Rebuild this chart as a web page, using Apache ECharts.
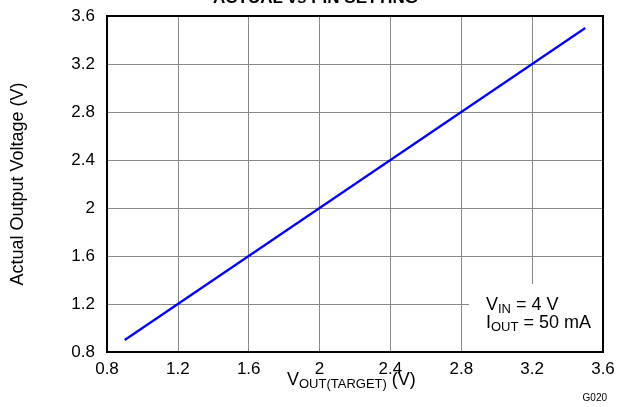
<!DOCTYPE html>
<html><head><meta charset="utf-8">
<script src="https://cdn.jsdelivr.net/npm/echarts@6/dist/echarts.min.js"></script>
<style>html,body{margin:0;padding:0;background:#fff}#c{width:627px;height:407px}</style>
</head><body><div id="c"></div>
<script>
var xTarget = [0.9, 3.5];
var yActual = [0.9, 3.5];
var titleText = 'ACTUAL vs PIN SETTING';
var yName = 'Actual Output Voltage (V)';
var FONT = 'Liberation Sans, Arial, sans-serif';

var pts = xTarget.map(function (x, i) { return [x, yActual[i]]; });
var chart = echarts.init(document.getElementById('c'), null, {renderer: 'canvas'});
function styles(fs, sfs) {
  return {
    n: {fontSize: fs, fontFamily: FONT, color: '#000', lineHeight: 22},
    s: {fontSize: sfs, fontFamily: FONT, color: '#000', verticalAlign: 'bottom', lineHeight: 15}
  };
}
chart.setOption({
  animation: false,
  backgroundColor: '#fff',
  title: {text: titleText, left: 208, top: -15, textStyle: {fontFamily: FONT, fontSize: 17, fontWeight: 'bold', color: '#000'}},
  grid: {left: 107, right: 24, top: 16, bottom: 55, show: true, borderColor: '#000', borderWidth: 2, backgroundColor: 'transparent', z: 3},
  xAxis: {type: 'value', min: 0.8, max: 3.6, interval: 0.4,
    axisLine: {show: false}, axisTick: {show: false},
    axisLabel: {fontFamily: FONT, fontSize: 17, color: '#000', margin: 9},
    splitLine: {show: true, lineStyle: {color: '#888', width: 1}}},
  yAxis: {type: 'value', min: 0.8, max: 3.6, interval: 0.4,
    name: yName, nameLocation: 'middle', nameGap: 80, nameRotate: 90,
    nameTextStyle: {fontFamily: FONT, fontSize: 18, color: '#000'},
    axisLine: {show: false}, axisTick: {show: false},
    axisLabel: {fontFamily: FONT, fontSize: 17, color: '#000', margin: 12},
    splitLine: {show: true, lineStyle: {color: '#888', width: 1}}},
  graphic: [
    {type: 'rect', z: 2, shape: {x: 469, y: 284, width: 133, height: 67}, style: {fill: '#fff'}},
    {type: 'text', z: 5, left: 486, top: 296, style: {rich: styles(18, 13), text: '{n|V}{s|IN}{n| = 4 V}'}},
    {type: 'text', z: 5, left: 486, top: 314, style: {rich: styles(18, 13), text: '{n|I}{s|OUT}{n| = 50 mA}'}},
    {type: 'text', z: 5, left: 287, top: 371, style: {rich: styles(18, 13), text: '{n|V}{s|OUT(TARGET)}{n| (V)}'}},
    {type: 'text', z: 5, right: 20, top: 393, style: {text: 'G020', font: '10px ' + FONT, fill: '#000'}}
  ],
  series: [{type: 'line', data: pts, showSymbol: false, z: 4,
    lineStyle: {color: '#0000ff', width: 2.2}}]
});
</script></body></html>
